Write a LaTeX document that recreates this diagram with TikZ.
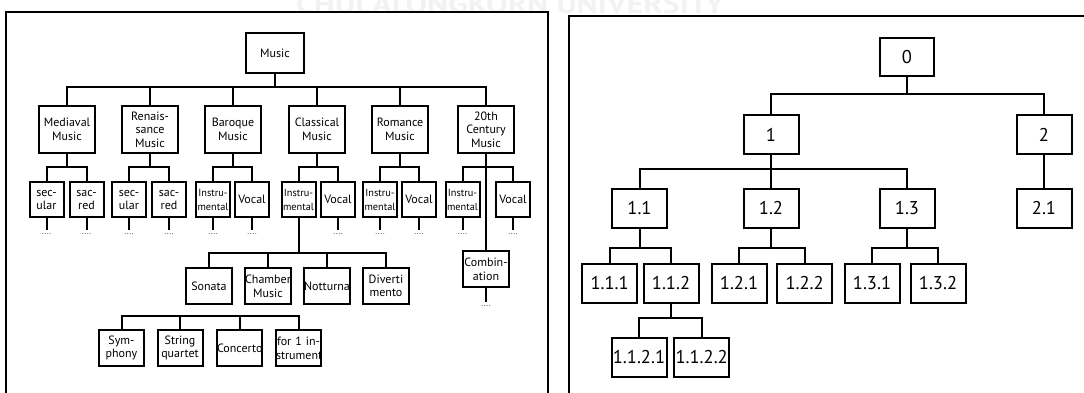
\documentclass[tikz,border=0pt]{standalone}
\usepackage{fontspec}
\setmainfont{PT Sans}
\begin{document}
\begin{tikzpicture}[x=1pt,y=-1pt,
  frame/.style={line width=2pt},
  link/.style={line width=2pt},
  box/.style={draw, line width=2pt, inner xsep=0pt, inner ysep=0pt, align=center, fill=white},
  bx/.style 2 args={box, text width=#1, minimum height=#2},
  lt/.style={font=\fontsize{12}{13.6}\selectfont},
  st/.style={font=\fontsize{10.3}{13.5}\selectfont},
  rt/.style={font=\fontsize{18.5}{21}\selectfont},
  dotn/.style={inner xsep=0pt, inner ysep=3.5pt, font=\fontsize{9}{9}\selectfont, text=black!70},
  wmark/.style={inner sep=0pt, text=black!5, font=\bfseries}
]
\useasboundingbox (0,0) rectangle (1084,392);

% faint header lettering behind the frames
\node[wmark, anchor=base west] (wm) at (296,13)
  {\resizebox{428pt}{19pt}{CHULALONGKORN UNIVERSITY}};

% ---------------- frames ----------------
\draw[frame] (6,400) -- (6,12) -- (548,12) -- (548,400);
\draw[frame] (568.5,400) -- (568.5,15.7) -- (1090,15.7);

% ---------------- left tree: music ----------------
\node[bx={58pt}{40pt}, lt] (music) at (275,53) {Music};

\node[bx={56pt}{47pt}, lt] (med) at (67,129.5)  {Mediaval\\Music};
\node[bx={56pt}{47pt}, lt] (ren) at (150,129.5) {Renais-\\sance\\Music};
\node[bx={56pt}{47pt}, lt] (bar) at (233,129.5) {Baroque\\Music};
\node[bx={56pt}{47pt}, lt] (cla) at (317,129.5) {Classical\\Music};
\node[bx={56pt}{47pt}, lt] (rom) at (400,129.5) {Romance\\Music};
\node[bx={56pt}{47pt}, lt] (tw)  at (486,129.5) {20th\\Century\\Music};

\node[bx={34pt}{35pt}, lt] (medsec) at (46.5,199.8)  {sec-\\ular};
\node[bx={34pt}{35pt}, lt] (medsac) at (86.5,199.8)  {sac-\\red};
\node[bx={34pt}{35pt}, lt] (rensec) at (129,199.8)   {sec-\\ular};
\node[bx={34pt}{35pt}, lt] (rensac) at (169,199.8)   {sac-\\red};
\node[bx={34pt}{35pt}, st] (barins) at (213,199.8)   {Instru-\\mental};
\node[bx={34pt}{35pt}, lt] (barvoc) at (252,199.8)   {Vocal};
\node[bx={34pt}{35pt}, st] (clains) at (298.5,199.8) {Instru-\\mental};
\node[bx={34pt}{35pt}, lt] (clavoc) at (338,199.8)   {Vocal};
\node[bx={34pt}{35pt}, st] (romins) at (380,199.8)   {Instru-\\mental};
\node[bx={34pt}{35pt}, lt] (romvoc) at (419,199.8)   {Vocal};
\node[bx={34pt}{35pt}, st] (twins)  at (462.5,199.8) {Instru-\\mental};
\node[bx={34pt}{35pt}, lt] (twvoc)  at (513,199.8)   {Vocal};

\node[bx={46pt}{36pt}, lt] (son) at (209,286) {Sonata};
\node[bx={46pt}{36pt}, lt] (cha) at (268,286) {Chamber\\Music};
\node[bx={46pt}{36pt}, lt] (not) at (327,286) {Notturna};
\node[bx={46pt}{36pt}, lt] (div) at (386,286) {Diverti\\mento};

\node[bx={46pt}{36pt}, lt] (comb) at (486,269) {Combin-\\ation};

\node[bx={45pt}{36pt}, lt] (sym) at (121.5,348) {Sym-\\phony};
\node[bx={45pt}{36pt}, lt] (str) at (180,348)   {String\\quartet};
\node[bx={45pt}{36pt}, lt] (con) at (239.5,348) {Concerto};
\node[bx={45pt}{36pt}, lt] (one) at (298.5,348) {for~1~in-\\strument};

% bar heights of the left tree
\coordinate (b0) at (0,87);
\coordinate (b1) at (0,167.3);
\coordinate (b2) at (0,252.5);
\coordinate (b3) at (0,316);
\coordinate (dd) at (0,234.5);
\coordinate (dc) at (0,306);

\foreach \c in {med,ren,bar,cla,rom,tw}
  \draw[link] (music.south) -- (music.south |- b0) -| (\c.north);

\foreach \p/\c in {med/medsec,med/medsac,ren/rensec,ren/rensac,bar/barins,bar/barvoc,
                   cla/clains,cla/clavoc,rom/romins,rom/romvoc,tw/twins,tw/twvoc}
  \draw[link] (\p.south) -- (\p.south |- b1) -| (\c.north);
\draw[link] (tw.south) -- (comb.north);

\foreach \c in {son,cha,not,div}
  \draw[link] (clains.south) -- (clains.south |- b2) -| (\c.north);

\draw[link] (sym.north) |- (one.north |- b3) -- (one.north);
\draw[link] (str.north) -- (str.north |- b3);
\draw[link] (con.north) -- (con.north |- b3);

% continuation marks
\foreach \c in {medsec,medsac,rensec,rensac,barins,barvoc,clavoc,romins,romvoc,twins,twvoc}{
  \node[dotn] (d-\c) at (\c.south |- dd) {....};
  \draw[link] (\c.south) -- (d-\c.north);
}
\node[dotn] (d-comb) at (comb.south |- dc) {....};
\draw[link] (comb.south) -- (d-comb.north);

% ---------------- right tree: numbering ----------------
\node[bx={54pt}{38pt}, rt] (r0) at (907,57)    {0};
\node[bx={55pt}{39pt}, rt] (r1) at (771,134.5) {1};
\node[bx={55pt}{39pt}, rt] (r2) at (1044,134.5) {2};

\node[bx={55pt}{38.5pt}, rt] (r11) at (639.5,208.5) {1.1};
\node[bx={55pt}{38.5pt}, rt] (r12) at (771,208.5)   {1.2};
\node[bx={55pt}{38.5pt}, rt] (r13) at (907,208.5)   {1.3};
\node[bx={55pt}{38.5pt}, rt] (r21) at (1044,208.5)  {2.1};

\node[bx={55pt}{38.5pt}, rt] (r111) at (609.7,283.4) {1.1.1};
\node[bx={55pt}{38.5pt}, rt] (r112) at (671,283.4)   {1.1.2};
\node[bx={55pt}{38.5pt}, rt] (r121) at (739,283.4)   {1.2.1};
\node[bx={55pt}{38.5pt}, rt] (r122) at (804.6,283.4) {1.2.2};
\node[bx={55pt}{38.5pt}, rt] (r131) at (872,283.4)   {1.3.1};
\node[bx={55pt}{38.5pt}, rt] (r132) at (938,283.4)   {1.3.2};

\node[bx={55pt}{39pt}, rt] (r1121) at (639,357)   {1.1.2.1};
\node[bx={55pt}{39pt}, rt] (r1122) at (701.7,357) {1.1.2.2};

\coordinate (rb0) at (0,94);
\coordinate (rb1) at (0,168.5);
\coordinate (rb2) at (0,248);
\coordinate (rb3) at (0,318.3);

\foreach \c in {r1,r2}
  \draw[link] (r0.south) -- (r0.south |- rb0) -| (\c.north);
\foreach \c in {r11,r12,r13}
  \draw[link] (r1.south) -- (r1.south |- rb1) -| (\c.north);
\draw[link] (r2.south) -- (r21.north);
\foreach \p/\c in {r11/r111,r11/r112,r12/r121,r12/r122,r13/r131,r13/r132}
  \draw[link] (\p.south) -- (\p.south |- rb2) -| (\c.north);
\foreach \c in {r1121,r1122}
  \draw[link] (r112.south) -- (r112.south |- rb3) -| (\c.north);
\end{tikzpicture}
\end{document}
